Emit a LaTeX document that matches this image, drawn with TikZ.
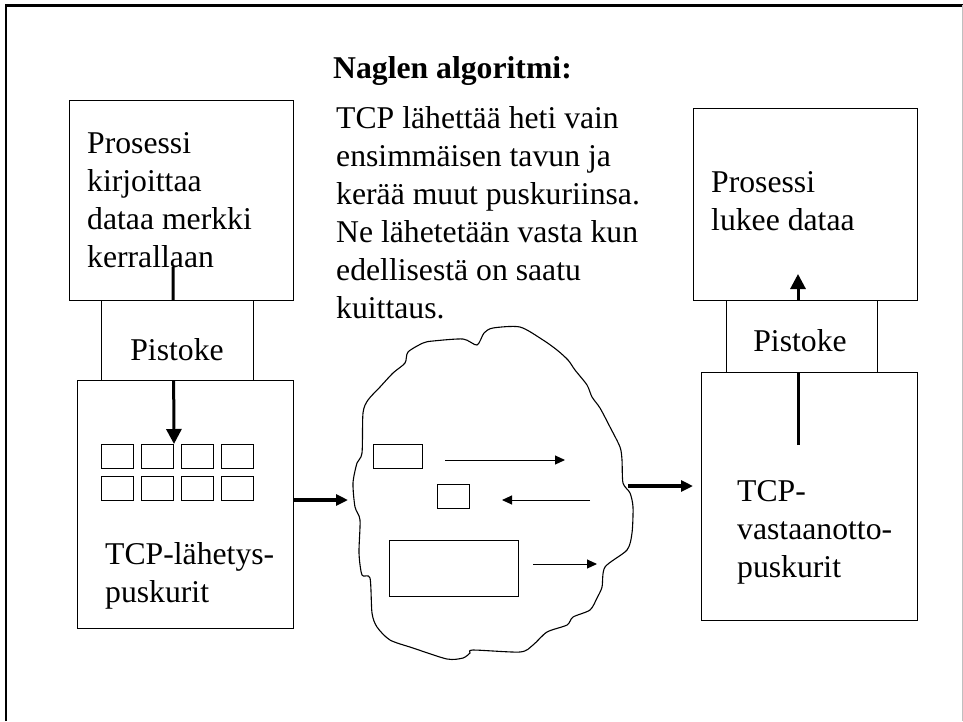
\documentclass[tikz,border=0pt]{standalone}
\usepackage{fontspec}
\setmainfont{Liberation Serif}
\usetikzlibrary{arrows.meta}
\newcommand{\firststrut}{\rule{0pt}{25pt}}
\begin{document}
\begin{tikzpicture}[x=1pt,y=-1pt,
  box/.style={draw, line width=1.2pt, fill=white, inner sep=0pt, anchor=north west},
  buf/.style={draw, line width=1pt, inner sep=0pt, anchor=north west, minimum width=32pt, minimum height=24pt},
  txt/.style={anchor=north west, inner sep=0pt, align=left, font=\fontsize{31.7}{38}\selectfont},
  oneline/.style={anchor=base, inner sep=0pt, font=\fontsize{31.7}{38}\selectfont},
  varrow/.style={line width=3pt, -{Triangle[length=15pt,width=15pt]}},
  harrow/.style={line width=3.2pt, -{Triangle[length=12pt,width=11pt]}},
  tarrow/.style={line width=1pt, -{Triangle[length=10pt,width=9pt]}},
  cloudline/.style={line width=1.1pt, line join=round},
]
\useasboundingbox (0,0) rectangle (963,721);
\fill[white] (0,0) rectangle (963,721);
% frame
\draw[line width=2.5pt] (6.2,721) -- (6.2,5.5) -- (963,5.5);
\draw[black!25, line width=0.8pt] (962,5) -- (962,721);

% title
\node[anchor=base west, inner sep=0pt, font=\fontsize{31.7}{38}\selectfont\bfseries] (title) at (333,78) {Naglen algoritmi:};

% main boxes
\node[box, minimum width=224pt, minimum height=200pt] (ltop) at (69,100) {};
\node[box, minimum width=216pt, minimum height=248pt] (llow) at (77,380) {};
\node[box, minimum width=224pt, minimum height=192pt] (rtop) at (693,108) {};
\node[box, minimum width=216pt, minimum height=248pt] (rlow) at (701,372) {};

% buffers
\node[buf] (b11) at (101,444) {};
\node[buf] (b12) at (141,444) {};
\node[buf] (b13) at (181,444) {};
\node[buf] (b14) at (221,444) {};
\node[buf] (b21) at (101,476) {};
\node[buf] (b22) at (141,476) {};
\node[buf] (b23) at (181,476) {};
\node[buf] (b24) at (221,476) {};

% vertical arrows (partly hidden by socket boxes)
\coordinate (lstart) at (173,267);
\draw[varrow] (lstart) -- (b12.north east);
\coordinate (rstart) at (798,445);
\coordinate (rend) at (798,274);
\draw[varrow] (rstart) -- (rend);

% socket boxes
\node[box, minimum width=152pt, minimum height=80pt] (lpist) at (101,300) {};
\node[box, minimum width=151pt, minimum height=72pt] (rpist) at (726,300) {};
\node[oneline] (lpisttxt) at (177,360) {Pistoke};
\node[oneline] (rpisttxt) at (800,351) {Pistoke};

% texts
\node[txt] (ltxt) at (87,128) {\firststrut Prosessi\\kirjoittaa\\dataa merkki\\kerrallaan};
\node[txt] (rtxt) at (711,167) {\firststrut Prosessi\\lukee dataa};
\node[txt] (mtxt) at (336,103) {\firststrut TCP lähettää heti vain\\ensimmäisen tavun ja\\kerää muut puskuriinsa.\\Ne lähetetään vasta kun\\edellisestä on saatu\\kuittaus.};
\node[txt] (ltcp) at (105,539) {\firststrut TCP-lähetys-\\puskurit};
\node[txt] (rtcp) at (737,476) {\firststrut TCP-\\vastaanotto-\\puskurit};

% cloud (network)
\draw[cloudline] plot[smooth cycle, tension=0.45] coordinates {
 (477,345) (484,333) (493,328) (520,327) (543,340) (557,350) (568,360) (575,370)
 (587,385) (592,397) (600,408) (610,427) (620,447) (622,460) (623,483) (630,493)
 (633,507) (632,533) (627,550) (605,567) (602,587) (597,598) (590,610) (573,617)
 (567,625) (547,632) (533,645) (520,652) (473,650) (470,653) (463,658) (447,659)
 (413,648) (390,640) (377,627) (372,613) (370,578) (362,575) (359,553) (360,520)
 (355,507) (353,483) (357,463) (362,453) (363,413) (368,400) (380,387) (393,373)
 (405,363) (408,352) (423,343) (433,341) (463,339)};

% segments inside the network
\node[buf, minimum width=49pt, minimum height=24pt] (seg1) at (373,444) {};
\node[buf, minimum width=32pt, minimum height=24pt] (seg2) at (437,484) {};
\node[buf, minimum width=129pt, minimum height=56pt] (seg3) at (389,540) {};
\coordinate (a1s) at (445,460);
\coordinate (a1e) at (565,460);
\coordinate (a2s) at (590,500);
\coordinate (a2e) at (502,500);
\coordinate (a3s) at (533,564);
\coordinate (a3e) at (597,564);
\draw[tarrow] (a1s) -- (a1e);
\draw[tarrow] (a2s) -- (a2e);
\draw[tarrow] (a3s) -- (a3e);

% thick arrows in/out of the network
\coordinate (inend) at (348,500);
\coordinate (outstart) at (628,486);
\coordinate (outend) at (693,486);
\draw[harrow] (llow.east |- inend) -- (inend);
\draw[harrow] (outstart) -- (outend);
\end{tikzpicture}
\end{document}
